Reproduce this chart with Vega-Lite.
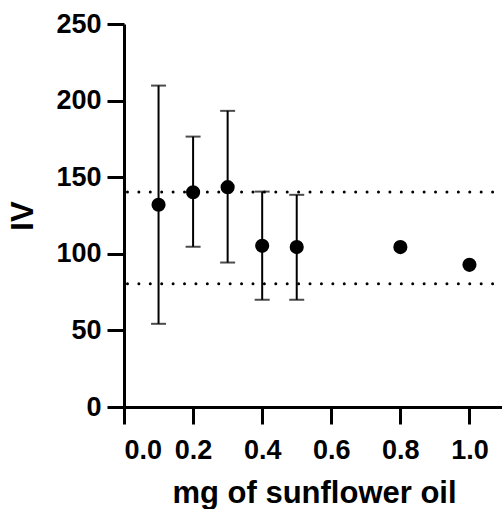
{
  "$schema": "https://vega.github.io/schema/vega-lite/v6.json",
  "autosize": "none",
  "width": 380,
  "height": 383,
  "padding": {"left": 124, "top": 24, "right": 0, "bottom": 102},
  "config": {
    "view": {"stroke": null},
    "font": "Liberation Sans",
    "axis": {
      "domainColor": "black", "domainWidth": 3, "tickColor": "black", "tickWidth": 3,
      "tickSize": 17, "grid": false, "labelColor": "black", "labelFont": "Liberation Sans",
      "labelFontWeight": "bold", "labelFontSize": 27, "titleFont": "Liberation Sans",
      "titleFontWeight": "bold", "titleColor": "black", "titleFontSize": 31
    }
  },
  "datasets": {
    "pts": [
      {"mg": 0.1, "IV": 132, "lo": 54.3, "hi": 209.8},
      {"mg": 0.2, "IV": 140.2, "lo": 104.6, "hi": 176.5},
      {"mg": 0.3, "IV": 143.5, "lo": 94.3, "hi": 193.3},
      {"mg": 0.4, "IV": 105.2, "lo": 70, "hi": 140.6},
      {"mg": 0.5, "IV": 104.4, "lo": 70, "hi": 138.5},
      {"mg": 0.8, "IV": 104.4, "lo": null, "hi": null},
      {"mg": 1.0, "IV": 92.8, "lo": null, "hi": null}
    ],
    "refs": [{"ref": 140.4}, {"ref": 80.5}]
  },
  "layer": [
    {
      "data": {"name": "refs"},
      "mark": {"type": "rule", "color": "black", "strokeWidth": 3, "strokeCap": "round", "strokeDash": [0.01, 11.4]},
      "encoding": {"y": {"field": "ref", "type": "quantitative"}}
    },
    {
      "data": {"name": "pts"},
      "transform": [{"filter": "datum.lo != null"}],
      "mark": {"type": "rule", "color": "black", "strokeWidth": 2},
      "encoding": {
        "x": {"field": "mg", "type": "quantitative"},
        "y": {"field": "lo", "type": "quantitative"},
        "y2": {"field": "hi"}
      }
    },
    {
      "data": {"name": "pts"},
      "transform": [{"filter": "datum.lo != null"}],
      "mark": {"type": "tick", "color": "black", "orient": "horizontal", "thickness": 2, "size": 15},
      "encoding": {
        "x": {"field": "mg", "type": "quantitative"},
        "y": {"field": "lo", "type": "quantitative"}
      }
    },
    {
      "data": {"name": "pts"},
      "transform": [{"filter": "datum.hi != null"}],
      "mark": {"type": "tick", "color": "black", "orient": "horizontal", "thickness": 2, "size": 15},
      "encoding": {
        "x": {"field": "mg", "type": "quantitative"},
        "y": {"field": "hi", "type": "quantitative"}
      }
    },
    {
      "data": {"name": "pts"},
      "mark": {"type": "point", "filled": true, "color": "black", "opacity": 1, "size": 200},
      "encoding": {
        "x": {
          "field": "mg", "type": "quantitative",
          "scale": {"domain": [0, 1.1], "nice": false},
          "axis": {"values": [0, 0.2, 0.4, 0.6, 0.8, 1.0], "format": ".1f", "labelPadding": 13, "title": "mg of sunflower oil", "titlePadding": 15}
        },
        "y": {
          "field": "IV", "type": "quantitative",
          "scale": {"domain": [0, 250], "nice": false},
          "axis": {"values": [0, 50, 100, 150, 200, 250], "labelPadding": 6, "title": "IV", "titlePadding": 16}
        }
      }
    }
  ]
}
